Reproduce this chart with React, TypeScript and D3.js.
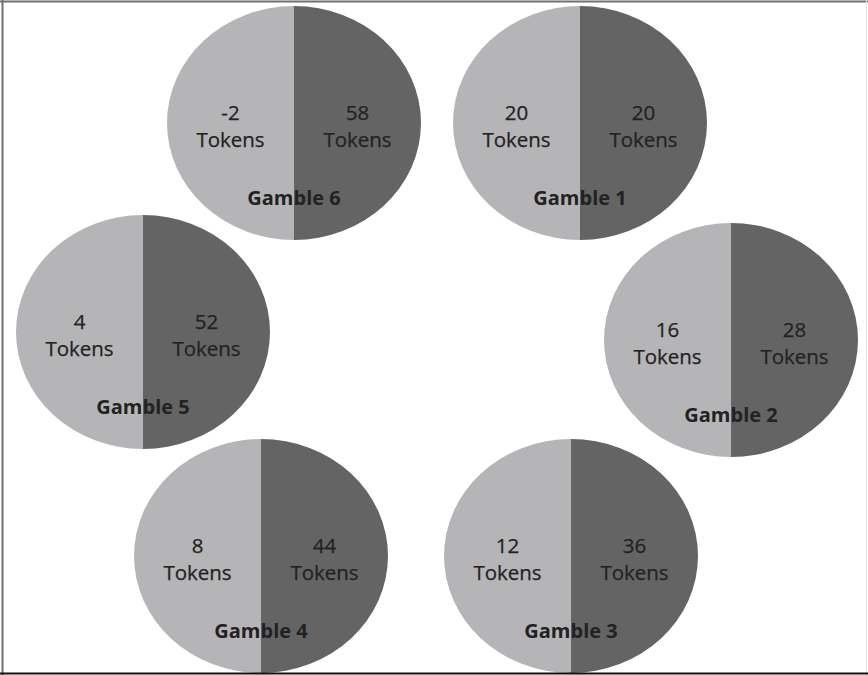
import React from "react";
import * as d3 from "d3";

const gambles = ["Gamble 1", "Gamble 2", "Gamble 3", "Gamble 4", "Gamble 5", "Gamble 6"];
const lowValues = [20, 16, 12, 8, 4, -2];
const highValues = [20, 28, 36, 44, 52, 58];
const unitLabel = "Tokens";

// layout (centres of each ellipse)
const centers: [number, number][] = [
  [580, 123],
  [731, 340],
  [571, 556],
  [261, 556],
  [143, 332],
  [294, 123],
];

const W = 868;
const H = 675;
const RX = 127;
const RY = 117;
const LIGHT = "#b5b4b6";
const DARK = "#646464";
const TEXT = "#222222";
const FONT = "'Open Sans', 'DejaVu Sans', sans-serif";

export default function App() {
  const pie = d3
    .pie<{ side: string; value: number }>()
    .sort(null)
    .value(() => 1)
    .startAngle(0)
    .endAngle(2 * Math.PI);
  const arc = d3
    .arc<d3.PieArcDatum<{ side: string; value: number }>>()
    .innerRadius(0)
    .outerRadius(RY);

  return (
    <svg
      width={W}
      height={H}
      style={{ position: "absolute", left: 0, top: 0, background: "#fff" }}
    >
      <rect x={0} y={0} width={W} height={H} fill="#fff" />
      {gambles.map((g, i) => {
        const [cx, cy] = centers[i];
        const slices = pie([
          { side: "high", value: highValues[i] },
          { side: "low", value: lowValues[i] },
        ]);
        return (
          <g key={g}>
            <g transform={`translate(${cx},${cy}) scale(${RX / RY},1)`}>
              {slices.map((s) => (
                <path
                  key={s.data.side}
                  d={arc(s) || ""}
                  fill={s.data.side === "high" ? DARK : LIGHT}
                />
              ))}
            </g>
            <g
              fontFamily={FONT}
              fontSize={20.5}
              fill={TEXT}
              textAnchor="middle"
              fontWeight={500}
              stroke={TEXT}
              strokeWidth={0.25}
            >
              <text x={cx - RX / 2} y={cy - 11} dominantBaseline="central">
                {lowValues[i]}
              </text>
              <text x={cx - RX / 2} y={cy + 16} dominantBaseline="central">
                {unitLabel}
              </text>
              <text x={cx + RX / 2} y={cy - 11} dominantBaseline="central">
                {highValues[i]}
              </text>
              <text x={cx + RX / 2} y={cy + 16} dominantBaseline="central">
                {unitLabel}
              </text>
              <text
                x={cx}
                y={cy + 74}
                dominantBaseline="central"
                fontWeight="bold"
                fontSize={20}
                strokeWidth={0}
              >
                {g}
              </text>
            </g>
          </g>
        );
      })}
      <line x1={0} y1={1.5} x2={W} y2={1.5} stroke="#707070" strokeWidth={2} />
      <line x1={2.5} y1={0} x2={2.5} y2={H} stroke="#707070" strokeWidth={2} />
      <line x1={866.5} y1={0} x2={866.5} y2={H} stroke="#e8e8e8" strokeWidth={1} />
      <line x1={0} y1={673.5} x2={W} y2={673.5} stroke="#111" strokeWidth={2} />
    </svg>
  );
}
